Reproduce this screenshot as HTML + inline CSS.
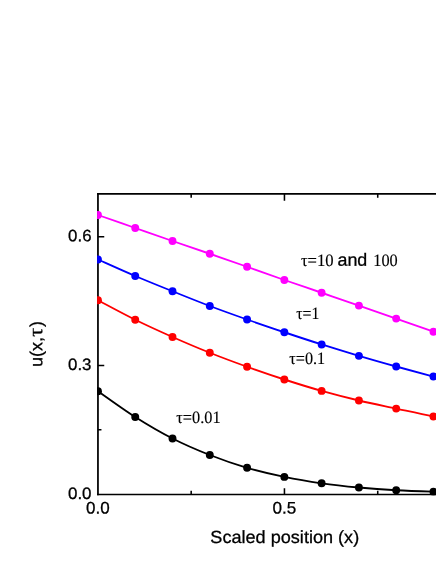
<!DOCTYPE html>
<html><head><meta charset="utf-8"><title>chart</title>
<style>
html,body{margin:0;padding:0;background:#fff;}
body{width:436px;height:564px;overflow:hidden;}
svg{display:block;will-change:transform;}
text{text-rendering:geometricPrecision;font-family:"Liberation Sans",sans-serif;fill:#000;stroke:#000;stroke-width:0.28px;}
text.s{font-family:"Liberation Serif",serif;stroke-width:0.15px;}
</style></head><body>
<svg width="436" height="564" viewBox="0 0 436 564">
<rect width="436" height="564" fill="#fff"/>
<defs><clipPath id="c"><rect x="97.08" y="192.93" width="400" height="302.45"/></clipPath></defs>

<g stroke="#000" fill="none">
<path d="M440 193.80 H97.08" stroke-width="1.75"/>
<path d="M97.95 192.93 V495.17" stroke-width="1.75"/>
<path d="M440 494.40 H97.08" stroke-width="1.55"/>
<path d="M191.18 193.80 v4.00 M191.18 494.40 v-3.70 M284.45 193.80 v6.90 M284.45 494.40 v-6.10 M377.73 193.80 v4.00 M377.73 494.40 v-3.70 M97.95 429.83 h3.50 M97.95 365.46 h6.30 M97.95 301.09 h3.50 M97.95 236.71 h6.30" stroke-width="1.55"/>
</g>
<g clip-path="url(#c)">
<path d="M97.95 391.20 C104.16 395.50 122.80 409.12 135.23 417.00 C147.66 424.88 160.08 432.17 172.51 438.50 C184.94 444.83 197.36 450.12 209.79 455.00 C222.22 459.88 234.64 464.15 247.07 467.80 C259.50 471.45 271.92 474.32 284.35 476.90 C296.78 479.48 309.20 481.53 321.63 483.30 C334.06 485.07 346.48 486.34 358.91 487.50 C371.34 488.66 383.76 489.55 396.19 490.25 C408.62 490.95 421.04 491.32 433.47 491.70 C445.90 492.07 464.54 492.37 470.75 492.50" fill="none" stroke="#000000" stroke-width="1.85"/>
<circle cx="97.95" cy="391.20" r="3.95" fill="#000000"/>
<circle cx="135.23" cy="417.00" r="3.95" fill="#000000"/>
<circle cx="172.51" cy="438.50" r="3.95" fill="#000000"/>
<circle cx="209.79" cy="455.00" r="3.95" fill="#000000"/>
<circle cx="247.07" cy="467.80" r="3.95" fill="#000000"/>
<circle cx="284.35" cy="476.90" r="3.95" fill="#000000"/>
<circle cx="321.63" cy="483.30" r="3.95" fill="#000000"/>
<circle cx="358.91" cy="487.50" r="3.95" fill="#000000"/>
<circle cx="396.19" cy="490.25" r="3.95" fill="#000000"/>
<circle cx="433.47" cy="491.70" r="3.95" fill="#000000"/>
<path d="M97.95 300.25 C104.16 303.50 122.80 313.62 135.23 319.75 C147.66 325.88 160.08 331.50 172.51 337.00 C184.94 342.50 197.36 347.79 209.79 352.75 C222.22 357.71 234.64 362.29 247.07 366.75 C259.50 371.21 271.92 375.48 284.35 379.50 C296.78 383.52 309.20 387.40 321.63 390.90 C334.06 394.40 346.48 397.55 358.91 400.50 C371.34 403.45 383.76 405.93 396.19 408.60 C408.62 411.27 421.04 414.07 433.47 416.50 C445.90 418.93 464.54 422.08 470.75 423.20" fill="none" stroke="#ff0000" stroke-width="1.85"/>
<circle cx="97.95" cy="300.25" r="3.95" fill="#ff0000"/>
<circle cx="135.23" cy="319.75" r="3.95" fill="#ff0000"/>
<circle cx="172.51" cy="337.00" r="3.95" fill="#ff0000"/>
<circle cx="209.79" cy="352.75" r="3.95" fill="#ff0000"/>
<circle cx="247.07" cy="366.75" r="3.95" fill="#ff0000"/>
<circle cx="284.35" cy="379.50" r="3.95" fill="#ff0000"/>
<circle cx="321.63" cy="390.90" r="3.95" fill="#ff0000"/>
<circle cx="358.91" cy="400.50" r="3.95" fill="#ff0000"/>
<circle cx="396.19" cy="408.60" r="3.95" fill="#ff0000"/>
<circle cx="433.47" cy="416.50" r="3.95" fill="#ff0000"/>
<path d="M97.95 259.50 C104.16 262.25 122.80 270.71 135.23 276.00 C147.66 281.29 160.08 286.25 172.51 291.25 C184.94 296.25 197.36 301.29 209.79 306.00 C222.22 310.71 234.64 315.12 247.07 319.50 C259.50 323.88 271.92 328.09 284.35 332.25 C296.78 336.41 309.20 340.52 321.63 344.45 C334.06 348.38 346.48 352.18 358.91 355.85 C371.34 359.53 383.76 363.05 396.19 366.50 C408.62 369.95 421.04 373.30 433.47 376.55 C445.90 379.80 464.54 384.43 470.75 386.00" fill="none" stroke="#0000ff" stroke-width="1.85"/>
<circle cx="97.95" cy="259.50" r="3.95" fill="#0000ff"/>
<circle cx="135.23" cy="276.00" r="3.95" fill="#0000ff"/>
<circle cx="172.51" cy="291.25" r="3.95" fill="#0000ff"/>
<circle cx="209.79" cy="306.00" r="3.95" fill="#0000ff"/>
<circle cx="247.07" cy="319.50" r="3.95" fill="#0000ff"/>
<circle cx="284.35" cy="332.25" r="3.95" fill="#0000ff"/>
<circle cx="321.63" cy="344.45" r="3.95" fill="#0000ff"/>
<circle cx="358.91" cy="355.85" r="3.95" fill="#0000ff"/>
<circle cx="396.19" cy="366.50" r="3.95" fill="#0000ff"/>
<circle cx="433.47" cy="376.55" r="3.95" fill="#0000ff"/>
<path d="M97.95 215.00 C104.16 217.17 122.80 223.67 135.23 228.00 C147.66 232.33 160.08 236.71 172.51 241.00 C184.94 245.29 197.36 249.46 209.79 253.75 C222.22 258.04 234.64 262.38 247.07 266.75 C259.50 271.12 271.92 275.67 284.35 280.00 C296.78 284.33 309.20 288.48 321.63 292.75 C334.06 297.02 346.48 301.29 358.91 305.60 C371.34 309.91 383.76 314.25 396.19 318.60 C408.62 322.95 421.04 327.30 433.47 331.70 C445.90 336.10 464.54 342.78 470.75 345.00" fill="none" stroke="#ff00ff" stroke-width="1.85"/>
<circle cx="97.95" cy="215.00" r="3.95" fill="#ff00ff"/>
<circle cx="135.23" cy="228.00" r="3.95" fill="#ff00ff"/>
<circle cx="172.51" cy="241.00" r="3.95" fill="#ff00ff"/>
<circle cx="209.79" cy="253.75" r="3.95" fill="#ff00ff"/>
<circle cx="247.07" cy="266.75" r="3.95" fill="#ff00ff"/>
<circle cx="284.35" cy="280.00" r="3.95" fill="#ff00ff"/>
<circle cx="321.63" cy="292.75" r="3.95" fill="#ff00ff"/>
<circle cx="358.91" cy="305.60" r="3.95" fill="#ff00ff"/>
<circle cx="396.19" cy="318.60" r="3.95" fill="#ff00ff"/>
<circle cx="433.47" cy="331.70" r="3.95" fill="#ff00ff"/>
</g>
<text class="s" x="300.89" y="265.90" transform="rotate(0.03 300.89 265.90)" font-size="17.40" textLength="32.72" lengthAdjust="spacingAndGlyphs">τ=10</text>
<text x="337.49" y="265.85" transform="rotate(0.03 337.49 265.85)" font-size="17.60" textLength="29.84" lengthAdjust="spacingAndGlyphs">and</text>
<text class="s" x="373.29" y="265.90" transform="rotate(0.03 373.29 265.90)" font-size="17.40" textLength="24.46" lengthAdjust="spacingAndGlyphs">100</text>
<text class="s" x="296.21" y="319.00" transform="rotate(0.03 296.21 319.00)" font-size="17.40" textLength="23.16" lengthAdjust="spacingAndGlyphs">τ=1</text>
<text class="s" x="289.25" y="363.50" transform="rotate(0.03 289.25 363.50)" font-size="17.40" textLength="35.93" lengthAdjust="spacingAndGlyphs">τ=0.1</text>
<text class="s" x="176.30" y="423.00" transform="rotate(0.03 176.30 423.00)" font-size="17.40" textLength="44.29" lengthAdjust="spacingAndGlyphs">τ=0.01</text>
<text x="68.11" y="241.25" transform="rotate(0.03 68.11 241.25)" font-size="16.50" textLength="23.39" lengthAdjust="spacingAndGlyphs">0.6</text>
<text x="68.06" y="370.00" transform="rotate(0.03 68.06 370.00)" font-size="16.50" textLength="23.44" lengthAdjust="spacingAndGlyphs">0.3</text>
<text x="67.96" y="499.00" transform="rotate(0.03 67.96 499.00)" font-size="16.50" textLength="23.60" lengthAdjust="spacingAndGlyphs">0.0</text>
<text x="86.06" y="513.45" transform="rotate(0.03 86.06 513.45)" font-size="16.70" textLength="23.65" lengthAdjust="spacingAndGlyphs">0.0</text>
<text x="272.56" y="513.45" transform="rotate(0.03 272.56 513.45)" font-size="16.70" textLength="23.81" lengthAdjust="spacingAndGlyphs">0.5</text>
<text x="210.35" y="543.00" transform="rotate(0.03 210.35 543.00)" font-size="17.60" textLength="148.84" lengthAdjust="spacingAndGlyphs">Scaled position (x)</text>
<g transform="translate(42.3 366.9) rotate(-89.97)">
<text x="0" y="0" font-size="17.4" textLength="30.0" lengthAdjust="spacingAndGlyphs">u(x,</text>
<text class="s" x="30.0" y="0" font-size="20.4" textLength="9.3" lengthAdjust="spacingAndGlyphs">τ</text>
<text x="40.0" y="0" font-size="17.6">)</text>
</g>
</svg></body></html>
